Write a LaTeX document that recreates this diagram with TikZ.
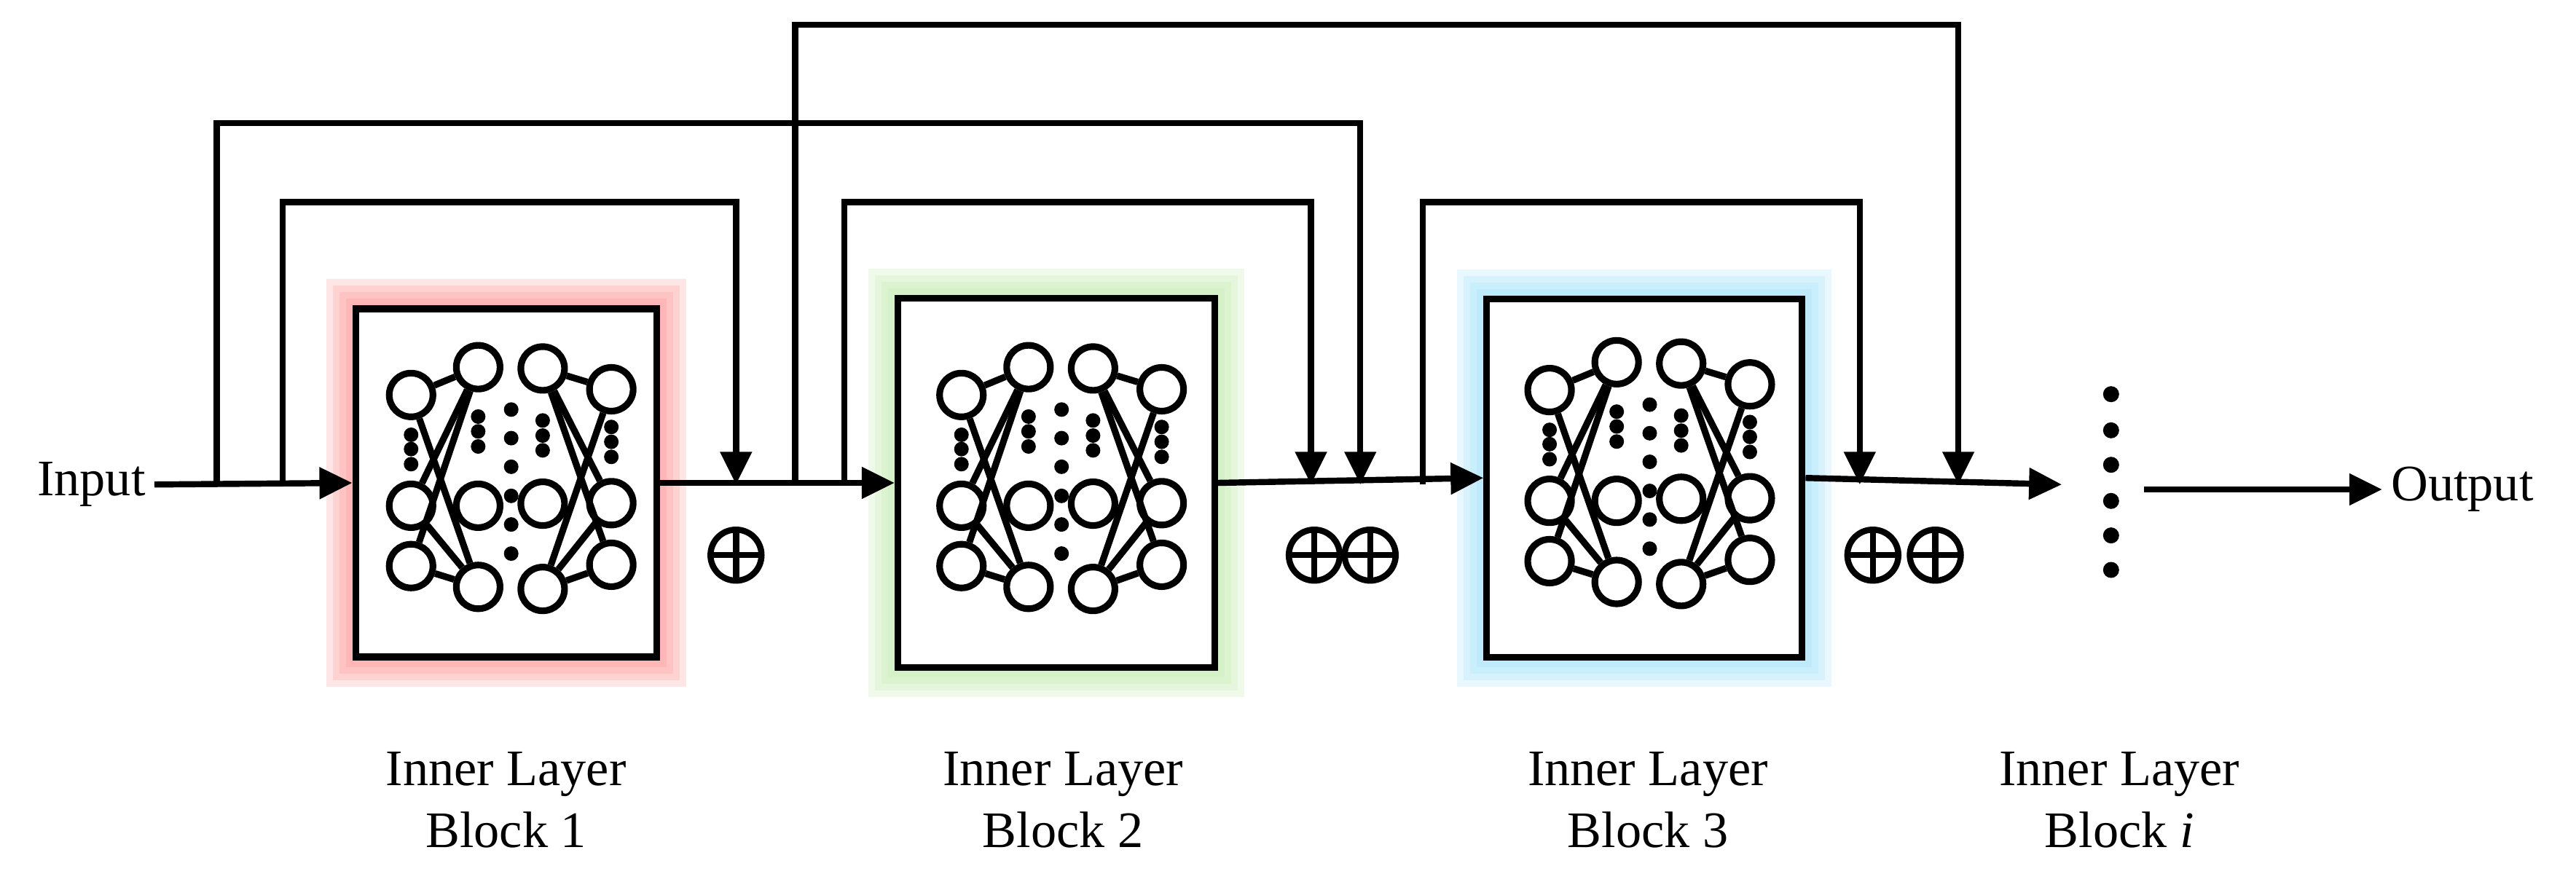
\documentclass[tikz,border=0pt]{standalone}
\usepackage{fontspec}
\setmainfont{Liberation Serif}
\usetikzlibrary{arrows.meta,positioning}
\tikzset{
  wire/.style   = {line width=2.4pt},
  flow/.style   = {wire, -{Triangle[length=0.45cm,width=0.42cm]}},
  block/.style  = {draw, line width=2.6pt, fill=white, inner sep=0pt},
  neuron/.style = {circle, draw, line width=2.6pt, fill=white, minimum size=0.6cm, inner sep=0pt},
  link/.style   = {line width=2.6pt},
  dot/.style    = {circle, fill=black, minimum size=0.2cm, inner sep=0pt},
  oplus/.style  = {circle, draw, line width=2.4pt, minimum size=0.7cm, inner sep=0pt,
                   path picture={\draw[line width=2.4pt]
                     (path picture bounding box.west) -- (path picture bounding box.east)
                     (path picture bounding box.north) -- (path picture bounding box.south);}},
  caption/.style= {align=center, font=\fontsize{20}{24}\selectfont}
}
% network drawn inside one block, coordinates relative to block centre
\newcommand{\innernet}[1]{%
  \begin{scope}[shift={(#1.center)}, x=0.003574cm, y=-0.003574cm]
    \foreach \n/\px/\py in {a1/352/452, a2/352/878, a3/352/1110,
                            b1/610/345, b2/610/878, b3/610/1190,
                            c1/858/350, c2/858/870, c3/858/1198,
                            d1/1122/430, d2/1122/868, d3/1122/1105}
      \node[neuron] (#1\n) at (\px-717,\py-790) {};
    \foreach \i in {1,2,3}
      \foreach \j in {1,3}
        {\draw[link] (#1a\i) -- (#1b\j); \draw[link] (#1c\j) -- (#1d\i);}
    \foreach \px/\py in {352/605, 352/660, 352/718, 610/535, 610/592, 610/650,
                         737/508, 737/618, 737/728, 737/840, 737/950, 737/1062,
                         858/550, 858/608, 858/665, 1122/575, 1122/632, 1122/690}
      \node[dot] at (\px-717,\py-790) {};
  \end{scope}}
\newcommand{\glow}[2]{%
  \foreach \g in {16,12,8,4}
    \fill[#2, opacity=0.22] ([shift={(-\g*0.0225cm,\g*0.0225cm)}]#1.north west)
                        rectangle ([shift={(\g*0.0225cm,-\g*0.0225cm)}]#1.south east);}

\begin{document}
\begin{tikzpicture}[x=0.02255cm, y=-0.02255cm]
\useasboundingbox (0,0) rectangle (1568,537);

% blocks
\node[block, minimum width=4.13cm, minimum height=4.78cm] (blk1) at (308,294) {};
\node[block, minimum width=4.35cm, minimum height=5.07cm] (blk2) at (643,294) {};
\node[block, minimum width=4.33cm, minimum height=4.92cm] (blk3) at (1001,291) {};
\begin{scope}[on background layer/.style={}]
\end{scope}
\glow{blk1}{red!45}
\glow{blk2}{green!50!olive!35}
\glow{blk3}{cyan!40}
\node[block, minimum width=4.13cm, minimum height=4.78cm] at (blk1) {};
\node[block, minimum width=4.35cm, minimum height=5.07cm] at (blk2) {};
\node[block, minimum width=4.33cm, minimum height=4.92cm] at (blk3) {};
\innernet{blk1}
\innernet{blk2}
\innernet{blk3}

% terminals
\node[caption, anchor=east] (in) at (94,295) {Input};
\node[caption, anchor=west] (out) at (1450,298) {Output};

% junctions on the main line
\coordinate (j1) at (132,295);
\coordinate (j2) at (172,295);
\coordinate (m1) at (448,295);
\coordinate (j3) at (484,295);
\coordinate (j4) at (514,295);
\coordinate (m2) at (798,295);
\coordinate (m3) at (828,295);
\coordinate (j5) at (866,295);
\coordinate (m4) at (1132,295);
\coordinate (m5) at (1192,295);
\coordinate (endl) at (1255,295);

% main line
\draw[flow] (in.east) -- (blk1.west);
\draw[flow] (blk1.east) -- (blk2.west);
\draw[flow] (blk2.east) -- (blk3.west);
\draw[flow] (blk3.east) -- (endl);
\draw[flow] (1305,298) -- (out.west);

% skip connections
\draw[flow] (j2) |- (448,123) -- (m1);
\draw[flow] (j1) |- (828,75) -- (m3);
\draw[flow] (j4) |- (798,123) -- (m2);
\draw[flow] (j3) |- (1192,15) -- (m5);
\draw[flow] (j5) |- (1132,123) -- (m4);

% sum symbols
\node[oplus] (s1) at (448,338) {};
\node[oplus] (s2) at (800,338) {};
\node[oplus] (s3) at (834,338) {};
\node[oplus] (s4) at (1140,338) {};
\node[oplus] (s5) at (1178,338) {};

% dots for further blocks
\foreach \py in {240,262,283,305,326,347}
  \node[dot, minimum size=0.22cm] at (1285,\py) {};

% captions
\node[caption] (c1) at (308,487) {Inner Layer\\Block 1};
\node[caption] (c2) at (647,487) {Inner Layer\\Block 2};
\node[caption] (c3) at (1003,487) {Inner Layer\\Block 3};
\node[caption] (c4) at (1290,487) {Inner Layer\\Block \textit{i}};
\end{tikzpicture}
\end{document}
